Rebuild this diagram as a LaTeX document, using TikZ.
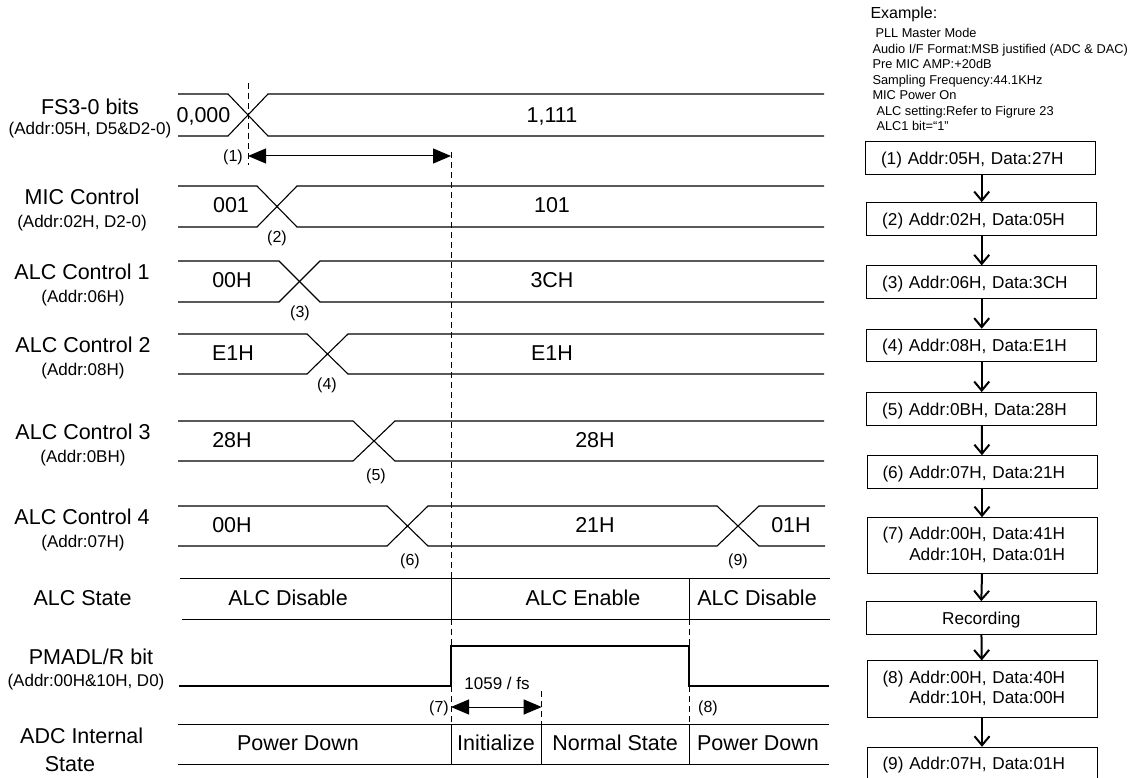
\documentclass[tikz,border=0pt]{standalone}
\usepackage{fontspec}
\setmainfont{Liberation Sans}
\usetikzlibrary{arrows.meta}
\begin{document}
\begin{tikzpicture}[x=1pt,y=-1pt,line width=1pt,
  big/.style={font=\fontsize{21.5}{24}\selectfont,inner sep=0pt,text height=15.4pt,text depth=0pt},
  small/.style={font=\fontsize{17}{19}\selectfont,inner sep=0pt,text height=12.2pt,text depth=0pt},
  num/.style={font=\fontsize{16}{18}\selectfont,inner sep=0pt,text height=11.5pt,text depth=0pt},
  wave/.style={line width=1.1pt},
  guide/.style={dash pattern=on 6pt off 4pt,line width=1pt},
  dimarrow/.style={{Triangle[length=18pt,width=15pt]}-{Triangle[length=18pt,width=15pt]},line width=1pt},
  flowbox/.style={draw,line width=1pt,minimum width=230pt,minimum height=32.6pt,
    font=\fontsize{17.2}{20.3}\selectfont,inner xsep=15.5pt,inner ysep=0pt,
    text width=199pt,align=left},
  onebox/.style={flowbox,text height=12.3pt,text depth=0pt},
  flow/.style={-{Straight Barb[length=9pt,width=15pt]},line width=2pt},
  ex/.style={font=\fontsize{12.8}{14}\selectfont,inner sep=0pt,anchor=west,text height=9.2pt,text depth=0pt},
]
\useasboundingbox (0,0) rectangle (1140,778);

% ---------- row labels ----------
\node[big]   (lFS)  at (90,107)  {FS3-0 bits};
\node[small] (lFSa) at (90,128)  {(Addr:05H, D5\&D2-0)};
\node[big]   (lMIC) at (82,197)  {MIC Control};
\node[small] (lMICa) at (82,221) {(Addr:02H, D2-0)};
\node[big]   (lA1)  at (82,272)  {ALC Control 1};
\node[small] (lA1a) at (83,296)  {(Addr:06H)};
\node[big]   (lA2)  at (83,345)  {ALC Control 2};
\node[small] (lA2a) at (83,369)  {(Addr:08H)};
\node[big]   (lA3)  at (83,432)  {ALC Control 3};
\node[small] (lA3a) at (83,456)  {(Addr:0BH)};
\node[big]   (lA4)  at (82,517)  {ALC Control 4};
\node[small] (lA4a) at (83,541)  {(Addr:07H)};
\node[big]   (lST)  at (82.5,598) {ALC State};
\node[big]   (lPM)  at (91,657)  {PMADL/R bit};
\node[small] (lPMa) at (86,680)  {(Addr:00H\&10H, D0)};
\node[big]   (lADC) at (81.7,736) {ADC Internal};
\node[big]   (lADCb) at (70,764) {State};

% ---------- bus waveforms ----------
% FS3-0
\draw[wave] (178,94) -- (228,94) -- (268,136) -- (824,136);
\draw[wave] (178,136) -- (228,136) -- (268,94) -- (824,94);
% MIC
\draw[wave] (178,186) -- (257,186) -- (297,227) -- (824,227);
\draw[wave] (178,227) -- (257,227) -- (297,186) -- (824,186);
% ALC1
\draw[wave] (178,261) -- (279,261) -- (320,302) -- (824,302);
\draw[wave] (178,302) -- (279,302) -- (320,261) -- (824,261);
% ALC2
\draw[wave] (178,334) -- (307,334) -- (348,374) -- (824,374);
\draw[wave] (178,374) -- (307,374) -- (348,334) -- (824,334);
% ALC3
\draw[wave] (178,421) -- (353,421) -- (395,461) -- (824,461);
\draw[wave] (178,461) -- (353,461) -- (395,421) -- (824,421);
% ALC4
\draw[wave] (178,506) -- (387,506) -- (428,546) -- (717,546) -- (759,506) -- (825,506);
\draw[wave] (178,546) -- (387,546) -- (428,506) -- (717,506) -- (759,546) -- (825,546);

% values
\node[big] (v1a) at (203.5,115) {0,000};
\node[big] (v1b) at (552,115) {1,111};
\node[big] (v2a) at (231,205) {001};
\node[big] (v2b) at (552,205) {101};
\node[big] (v3a) at (232,280) {00H};
\node[big] (v3b) at (552,280) {3CH};
\node[big] (v4a) at (233,353) {E1H};
\node[big] (v4b) at (552,353) {E1H};
\node[big] (v5a) at (232,440) {28H};
\node[big] (v5b) at (595,440) {28H};
\node[big] (v6a) at (232,525) {00H};
\node[big] (v6b) at (595,525) {21H};
\node[big] (v6c) at (791,525) {01H};

% step numbers
\node[num] (n2) at (277,237) {(2)};
\node[num] (n3) at (300,312) {(3)};
\node[num] (n4) at (327,384) {(4)};
\node[num] (n5) at (376,475) {(5)};
\node[num] (n6) at (410,560) {(6)};
\node[num] (n9) at (738,560) {(9)};
\node[num] (n1) at (233,156) {(1)};
\node[num] (n7) at (439,707) {(7)};
\node[num] (n8) at (708,707) {(8)};

% ---------- ALC State ----------
\draw (180,578) -- (830,578);
\draw (182,619) -- (830,619);
\draw (451,578) -- (451,619);
\draw (689,578) -- (689,619);
\node[big] (s1) at (288,598) {ALC Disable};
\node[big] (s2) at (583,598) {ALC Enable};
\node[big] (s3) at (757,598) {ALC Disable};

% ---------- PMADL/R ----------
\draw[wave] (179,686) -- (451,686) -- (451,646) -- (689,646) -- (689,686) -- (829,686);

% ---------- ADC internal state ----------
\draw (178,724) -- (829,724);
\draw (178,764) -- (829,764);
\draw (451,724) -- (451,764);
\draw (541.7,724) -- (541.7,764);
\draw (689,724) -- (689,764);
\node[big] (d1) at (298,743) {Power Down};
\node[big] (d2) at (496,743) {Initialize};
\node[big] (d3) at (615,743) {Normal State};
\node[big] (d4) at (758,743) {Power Down};

% ---------- guides ----------
\draw[guide] (248,83) -- (248,165);
\draw[guide] (451,152) -- (451,578);
\draw[guide] (451,619) -- (451,646);
\draw[guide] (451,686) -- (451,724);
\draw[guide] (689,619) -- (689,646);
\draw[guide] (689,686) -- (689,724);
\draw[guide] (541.7,691) -- (541.7,724);

% ---------- dimension arrows ----------
\coordinate (a1s) at (248,156);
\coordinate (a1e) at (451,156);
\draw[dimarrow] (a1s) -- (a1e);
\coordinate (a7s) at (451,707);
\coordinate (a7e) at (541.7,707);
\draw[dimarrow] (a7s) -- (a7e);
\node[small] (fs) at (497,683) {1059 / fs};

% ---------- example text ----------
\node[font=\fontsize{16}{18}\selectfont,inner sep=0pt,anchor=west,text height=11.5pt,text depth=0pt] (exh) at (870,13) {Example:};
\node[ex] (e1) at (875,33.3) {PLL Master Mode};
\node[ex] (e2) at (872,48.8) {Audio I/F Format:MSB justified (ADC \& DAC)};
\node[ex] (e3) at (872,64.3) {Pre MIC AMP:+20dB};
\node[ex] (e4) at (872,79.8) {Sampling Frequency:44.1KHz};
\node[ex] (e5) at (872,95.3) {MIC Power On};
\node[ex] (e6) at (876,110.8) {ALC setting:Refer to Figrure 23};
\node[ex] (e7) at (876,126.3) {ALC1 bit=“1”};

% ---------- flow chart ----------
\node[onebox] (b1) at (980.5,158) {(1) Addr:05H, Data:27H};
\node[onebox] (b2) at (981.7,218.9) {(2) Addr:02H, Data:05H};
\node[onebox] (b3) at (981.7,282.2) {(3) Addr:06H, Data:3CH};
\node[onebox] (b4) at (981.7,345.5) {(4) Addr:08H, Data:E1H};
\node[onebox] (b5) at (981.7,408.9) {(5) Addr:0BH, Data:28H};
\node[onebox] (b6) at (982,472) {(6) Addr:07H, Data:21H};
\node[flowbox,minimum height=55.6pt] (b7) at (982,545.5) {(7) Addr:00H, Data:41H\\\phantom{(7) }Addr:10H, Data:01H};
\node[onebox,align=center] (rec) at (981.3,618) {Recording};
\node[flowbox,minimum height=56.7pt] (b8) at (982,689.3) {(8) Addr:00H, Data:40H\\\phantom{(8) }Addr:10H, Data:00H};
\node[onebox] (b9) at (982,763.6) {(9) Addr:07H, Data:01H};

\draw[flow] (b1.south -| 981.7,0) -- (b2.north);
\draw[flow] (b2) -- (b3);
\draw[flow] (b3) -- (b4);
\draw[flow] (b4) -- (b5);
\draw[flow] (b5) -- (b6);
\draw[flow] (b6) -- (b7);
\draw[flow] (b7.south) -- (rec.north);
\draw[flow] (rec) -- (b8);
\draw[flow] (b8) -- (b9);
\end{tikzpicture}
\end{document}
